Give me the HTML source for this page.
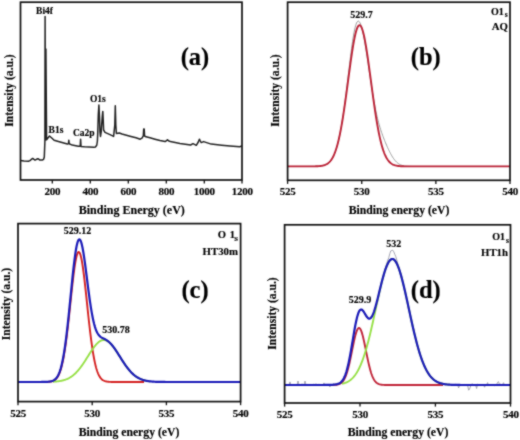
<!DOCTYPE html>
<html><head><meta charset="utf-8"><style>
html,body{margin:0;padding:0;background:#fff;}
body{width:520px;height:440px;overflow:hidden;}
svg{display:block;}
text{font-family:"Liberation Serif",serif;font-weight:bold;fill:#000;stroke:#000;stroke-width:0.15px;}
</style></head><body>
<svg width="520" height="440" viewBox="0 0 520 440">
<defs><filter id="bl" x="0" y="0" width="100%" height="100%" color-interpolation-filters="sRGB"><feConvolveMatrix order="3" kernelMatrix="1 2 1 2 12 2 1 2 1" divisor="24" edgeMode="duplicate"/></filter></defs>
<rect width="520" height="440" fill="#fff"/>
<g filter="url(#bl)">
<rect width="520" height="440" fill="#fff"/>
<polyline points="20.5,160.4 24,160.9 28.4,161.2 30,160.6 31,159.7 32.7,158.4 34,159.4 35,160.1 36.5,159.3 37.9,158.7 39,159.4 39.9,160.1 42.2,160.1 43.6,159.3 44.3,157 44.9,141 45.1,16.5 45.5,140 45.9,49 46.6,139.8 47.5,138.5 49.5,136 51.5,137.8 54.1,140.3 59.3,141.7 67.4,144 68.5,143.6 68.8,140.2 69.2,143.8 72.2,145.1 78.3,146.3 80.2,146.3 80.6,139.2 81,146.4 84.5,146.7 93.7,147.2 95.6,146.9 96.8,145 97.4,141 97.7,134 98.3,115 98.9,105 99.5,118 100,132 100.5,136.4 101.2,132 102.3,116 102.8,111.4 103.3,122 103.6,130 105,132.4 110,134.6 113.6,136.4 114.8,125 115.3,105.7 115.8,125 116.4,133.5 119.3,133 122,134 130,136.2 136,137.8 140.2,139.2 142,138.2 143.3,135.8 143.7,129 144.2,129 144.6,136 146,136.8 150,137.8 155,139.2 160,140.5 165.1,141.6 166.5,140.6 167.5,139.7 168.5,140.8 170.4,141.6 180,143.4 190.6,145 193,143.7 196.3,145.3 198.3,142 199.4,139.2 200.3,141 201.2,142.6 203.6,141.6 211.2,144.1 221.7,145.2 230,146 239.7,146.8 241.9,145.9" fill="none" stroke="#222" stroke-width="1.5" stroke-linejoin="round"/>
<rect x="20.5" y="2.2" width="221.5" height="177.8" fill="none" stroke="#111" stroke-width="1.7"/>
<line x1="52.3" y1="180" x2="52.3" y2="183.6" stroke="#111" stroke-width="1.3"/>
<line x1="90.3" y1="180" x2="90.3" y2="183.6" stroke="#111" stroke-width="1.3"/>
<line x1="128.3" y1="180" x2="128.3" y2="183.6" stroke="#111" stroke-width="1.3"/>
<line x1="166.3" y1="180" x2="166.3" y2="183.6" stroke="#111" stroke-width="1.3"/>
<line x1="204.3" y1="180" x2="204.3" y2="183.6" stroke="#111" stroke-width="1.3"/>
<line x1="242" y1="180" x2="242" y2="183.6" stroke="#111" stroke-width="1.3"/>
<text x="52.3" y="194.5" font-size="11" text-anchor="middle" letter-spacing="-0.25">200</text>
<text x="90.3" y="194.5" font-size="11" text-anchor="middle" letter-spacing="-0.25">400</text>
<text x="128.3" y="194.5" font-size="11" text-anchor="middle" letter-spacing="-0.25">600</text>
<text x="166.3" y="194.5" font-size="11" text-anchor="middle" letter-spacing="-0.25">800</text>
<text x="204.3" y="194.5" font-size="11" text-anchor="middle" letter-spacing="-0.25">1000</text>
<text x="242.3" y="194.5" font-size="11" text-anchor="middle" letter-spacing="-0.25">1200</text>
<text x="131.8" y="213.5" font-size="12" text-anchor="middle" >Binding Energy (eV)</text>
<text x="12.5" y="90.5" font-size="11.6" text-anchor="middle" transform="rotate(-90 12.5 90.5)">Intensity (a.u.)</text>
<text x="44.5" y="13.5" font-size="9.5" text-anchor="middle" >Bi4f</text>
<text x="56" y="133.3" font-size="9.5" text-anchor="middle" >B1s</text>
<text x="83.8" y="135.6" font-size="9.5" text-anchor="middle" >Ca2p</text>
<text x="97.8" y="101.9" font-size="9.5" text-anchor="middle" >O1s</text>
<text x="195" y="65" font-size="24.5" text-anchor="middle" >(a)</text>
<polyline points="287.60,166.40 288.10,166.40 288.60,166.40 289.10,166.40 289.60,166.40 290.10,166.40 290.60,166.40 291.10,166.40 291.60,166.40 292.10,166.40 292.60,166.40 293.10,166.40 293.60,166.40 294.10,166.40 294.60,166.40 295.10,166.40 295.60,166.40 296.10,166.40 296.60,166.40 297.10,166.40 297.60,166.40 298.10,166.40 298.60,166.40 299.09,166.40 299.59,166.40 300.09,166.40 300.59,166.40 301.09,166.40 301.59,166.40 302.09,166.40 302.59,166.40 303.09,166.40 303.59,166.40 304.09,166.40 304.59,166.40 305.09,166.40 305.59,166.40 306.09,166.40 306.59,166.40 307.09,166.40 307.59,166.40 308.09,166.40 308.59,166.39 309.09,166.39 309.59,166.39 310.09,166.39 310.59,166.39 311.09,166.39 311.59,166.38 312.09,166.38 312.59,166.37 313.09,166.37 313.59,166.36 314.09,166.36 314.59,166.35 315.09,166.34 315.59,166.32 316.09,166.31 316.59,166.29 317.09,166.27 317.59,166.25 318.09,166.22 318.59,166.19 319.09,166.16 319.59,166.12 320.09,166.07 320.59,166.01 321.08,165.95 321.58,165.88 322.08,165.79 322.58,165.70 323.08,165.59 323.58,165.46 324.08,165.32 324.58,165.16 325.08,164.98 325.58,164.78 326.08,164.55 326.58,164.29 327.08,164.00 327.58,163.68 328.08,163.32 328.58,162.92 329.08,162.48 329.58,161.99 330.08,161.44 330.58,160.84 331.08,160.18 331.58,159.46 332.08,158.66 332.58,157.80 333.08,156.85 333.58,155.82 334.08,154.71 334.58,153.50 335.08,152.19 335.58,150.79 336.08,149.27 336.58,147.65 337.08,145.92 337.58,144.07 338.08,142.10 338.58,140.00 339.08,137.78 339.58,135.43 340.08,132.96 340.58,130.35 341.08,127.61 341.58,124.74 342.08,121.74 342.58,118.61 343.08,115.35 343.57,111.97 344.07,108.47 344.57,104.85 345.07,101.12 345.57,97.29 346.07,93.36 346.57,89.36 347.07,85.28 347.57,81.15 348.07,76.97 348.57,72.78 349.07,68.59 349.57,64.43 350.07,60.31 350.57,56.27 351.07,52.33 351.57,48.52 352.07,44.86 352.57,41.39 353.07,38.14 353.57,35.11 354.07,32.35 354.57,29.86 355.07,27.67 355.57,25.78 356.07,24.20 356.57,22.95 357.07,22.02 357.57,21.42 358.07,21.13 358.57,21.15 359.07,21.47 359.57,22.09 360.07,22.98 360.57,24.14 361.07,25.54 361.57,27.18 362.07,29.05 362.57,31.11 363.07,33.37 363.57,35.80 364.07,38.40 364.57,41.14 365.07,44.01 365.56,46.99 366.06,50.08 366.56,53.26 367.06,56.50 367.56,59.81 368.06,63.15 368.56,66.52 369.06,69.90 369.56,73.28 370.06,76.65 370.56,79.98 371.06,83.27 371.56,86.51 372.06,89.68 372.56,92.78 373.06,95.79 373.56,98.72 374.06,101.55 374.56,104.28 375.06,106.90 375.56,109.43 376.06,111.85 376.56,114.16 377.06,116.37 377.56,118.49 378.06,120.51 378.56,122.43 379.06,124.27 379.56,126.03 380.06,127.71 380.56,129.33 381.06,130.88 381.56,132.37 382.06,133.81 382.56,135.21 383.06,136.56 383.56,137.88 384.06,139.16 384.56,140.41 385.06,141.64 385.56,142.84 386.06,144.01 386.56,145.17 387.06,146.30 387.56,147.41 388.05,148.49 388.55,149.55 389.05,150.59 389.55,151.60 390.05,152.58 390.55,153.53 391.05,154.45 391.55,155.33 392.05,156.18 392.55,156.99 393.05,157.77 393.55,158.50 394.05,159.20 394.55,159.86 395.05,160.47 395.55,161.05 396.05,161.59 396.55,162.09 397.05,162.54 397.55,162.97 398.05,163.36 398.55,163.71 399.05,164.03 399.55,164.32 400.05,164.58 400.55,164.81 401.05,165.02 401.55,165.21 402.05,165.37 402.55,165.52 403.05,165.65 403.55,165.76 404.05,165.85 404.55,165.94 405.05,166.01 405.55,166.07 406.05,166.13 406.55,166.17 407.05,166.21 407.55,166.24 408.05,166.27 408.55,166.29 409.05,166.31 409.55,166.33 410.04,166.34 410.54,166.35 411.04,166.36 411.54,166.37 412.04,166.38 412.54,166.38 413.04,166.38 413.54,166.39 414.04,166.39 414.54,166.39 415.04,166.39 415.54,166.40 416.04,166.40 416.54,166.40 417.04,166.40 417.54,166.40 418.04,166.40 418.54,166.40 419.04,166.40 419.54,166.40 420.04,166.40 420.54,166.40 421.04,166.40 421.54,166.40 422.04,166.40 422.54,166.40 423.04,166.40 423.54,166.40 424.04,166.40 424.54,166.40 425.04,166.40 425.54,166.40 426.04,166.40 426.54,166.40 427.04,166.40 427.54,166.40 428.04,166.40 428.54,166.40 429.04,166.40 429.54,166.40 430.04,166.40 430.54,166.40 431.04,166.40 431.54,166.40 432.04,166.40 432.53,166.40 433.03,166.40 433.53,166.40 434.03,166.40 434.53,166.40 435.03,166.40 435.53,166.40 436.03,166.40 436.53,166.40 437.03,166.40 437.53,166.40 438.03,166.40 438.53,166.40 439.03,166.40 439.53,166.40 440.03,166.40 440.53,166.40 441.03,166.40 441.53,166.40 442.03,166.40 442.53,166.40 443.03,166.40 443.53,166.40 444.03,166.40 444.53,166.40 445.03,166.40 445.53,166.40 446.03,166.40 446.53,166.40 447.03,166.40 447.53,166.40 448.03,166.40 448.53,166.40 449.03,166.40 449.53,166.40 450.03,166.40 450.53,166.40 451.03,166.40 451.53,166.40 452.03,166.40 452.53,166.40 453.03,166.40 453.53,166.40 454.03,166.40 454.52,166.40 455.02,166.40 455.52,166.40 456.02,166.40 456.52,166.40 457.02,166.40 457.52,166.40 458.02,166.40 458.52,166.40 459.02,166.40 459.52,166.40 460.02,166.40 460.52,166.40 461.02,166.40 461.52,166.40 462.02,166.40 462.52,166.40 463.02,166.40 463.52,166.40 464.02,166.40 464.52,166.40 465.02,166.40 465.52,166.40 466.02,166.40 466.52,166.40 467.02,166.40 467.52,166.40 468.02,166.40 468.52,166.40 469.02,166.40 469.52,166.40 470.02,166.40 470.52,166.40 471.02,166.40 471.52,166.40 472.02,166.40 472.52,166.40 473.02,166.40 473.52,166.40 474.02,166.40 474.52,166.40 475.02,166.40 475.52,166.40 476.02,166.40 476.52,166.40 477.01,166.40 477.51,166.40 478.01,166.40 478.51,166.40 479.01,166.40 479.51,166.40 480.01,166.40 480.51,166.40 481.01,166.40 481.51,166.40 482.01,166.40 482.51,166.40 483.01,166.40 483.51,166.40 484.01,166.40 484.51,166.40 485.01,166.40 485.51,166.40 486.01,166.40 486.51,166.40 487.01,166.40 487.51,166.40 488.01,166.40 488.51,166.40 489.01,166.40 489.51,166.40 490.01,166.40 490.51,166.40 491.01,166.40 491.51,166.40 492.01,166.40 492.51,166.40 493.01,166.40 493.51,166.40 494.01,166.40 494.51,166.40 495.01,166.40 495.51,166.40 496.01,166.40 496.51,166.40 497.01,166.40 497.51,166.40 498.01,166.40 498.51,166.40 499.00,166.40 499.50,166.40 500.00,166.40 500.50,166.40 501.00,166.40 501.50,166.40 502.00,166.40 502.50,166.40 503.00,166.40 503.50,166.40 504.00,166.40 504.50,166.40 505.00,166.40 505.50,166.40 506.00,166.40 506.50,166.40 507.00,166.40 507.50,166.40 508.00,166.40 508.50,166.40 509.00,166.40 509.50,166.40 510.00,166.40" fill="none" stroke="#9a9a9a" stroke-width="1"/>
<polyline points="287.60,166.40 288.10,166.40 288.60,166.40 289.10,166.40 289.60,166.40 290.10,166.40 290.60,166.40 291.10,166.40 291.60,166.40 292.10,166.40 292.60,166.40 293.10,166.40 293.60,166.40 294.10,166.40 294.60,166.40 295.10,166.40 295.60,166.40 296.10,166.40 296.60,166.40 297.10,166.40 297.60,166.40 298.10,166.40 298.60,166.40 299.09,166.40 299.59,166.40 300.09,166.40 300.59,166.40 301.09,166.40 301.59,166.40 302.09,166.40 302.59,166.40 303.09,166.40 303.59,166.40 304.09,166.40 304.59,166.40 305.09,166.40 305.59,166.40 306.09,166.40 306.59,166.40 307.09,166.40 307.59,166.40 308.09,166.39 308.59,166.39 309.09,166.39 309.59,166.39 310.09,166.39 310.59,166.39 311.09,166.38 311.59,166.38 312.09,166.38 312.59,166.37 313.09,166.36 313.59,166.36 314.09,166.35 314.59,166.34 315.09,166.33 315.59,166.32 316.09,166.30 316.59,166.28 317.09,166.26 317.59,166.24 318.09,166.21 318.59,166.17 319.09,166.14 319.59,166.09 320.09,166.04 320.59,165.98 321.08,165.92 321.58,165.84 322.08,165.75 322.58,165.65 323.08,165.54 323.58,165.41 324.08,165.27 324.58,165.10 325.08,164.92 325.58,164.71 326.08,164.48 326.58,164.22 327.08,163.92 327.58,163.60 328.08,163.23 328.58,162.83 329.08,162.38 329.58,161.89 330.08,161.35 330.58,160.74 331.08,160.09 331.58,159.36 332.08,158.57 332.58,157.71 333.08,156.77 333.58,155.75 334.08,154.65 334.58,153.45 335.08,152.17 335.58,150.78 336.08,149.29 336.58,147.70 337.08,145.99 337.58,144.18 338.08,142.24 338.58,140.20 339.08,138.03 339.58,135.74 340.08,133.33 340.58,130.80 341.08,128.15 341.58,125.38 342.08,122.49 342.58,119.50 343.08,116.39 343.57,113.18 344.07,109.87 344.57,106.48 345.07,103.00 345.57,99.44 346.07,95.83 346.57,92.16 347.07,88.45 347.57,84.71 348.07,80.96 348.57,77.21 349.07,73.47 349.57,69.76 350.07,66.10 350.57,62.49 351.07,58.97 351.57,55.53 352.07,52.21 352.57,49.02 353.07,45.96 353.57,43.07 354.07,40.34 354.57,37.81 355.07,35.47 355.57,33.35 356.07,31.45 356.57,29.79 357.07,28.37 357.57,27.21 358.07,26.31 358.57,25.67 359.07,25.30 359.57,25.20 360.07,25.37 360.57,25.82 361.07,26.53 361.57,27.50 362.07,28.73 362.57,30.22 363.07,31.94 363.57,33.90 364.07,36.08 364.57,38.47 365.07,41.06 365.56,43.83 366.06,46.77 366.56,49.87 367.06,53.10 367.56,56.45 368.06,59.91 368.56,63.46 369.06,67.08 369.56,70.76 370.06,74.48 370.56,78.22 371.06,81.98 371.56,85.73 372.06,89.46 372.56,93.16 373.06,96.81 373.56,100.41 374.06,103.95 374.56,107.40 375.06,110.78 375.56,114.06 376.06,117.24 376.56,120.32 377.06,123.29 377.56,126.14 378.06,128.88 378.56,131.49 379.06,133.99 379.56,136.37 380.06,138.63 380.56,140.76 381.06,142.78 381.56,144.68 382.06,146.46 382.56,148.14 383.06,149.70 383.56,151.16 384.06,152.52 384.56,153.79 385.06,154.96 385.56,156.04 386.06,157.03 386.56,157.95 387.06,158.79 387.56,159.57 388.05,160.27 388.55,160.91 389.05,161.50 389.55,162.03 390.05,162.51 390.55,162.94 391.05,163.34 391.55,163.69 392.05,164.01 392.55,164.29 393.05,164.54 393.55,164.77 394.05,164.97 394.55,165.15 395.05,165.31 395.55,165.45 396.05,165.57 396.55,165.68 397.05,165.78 397.55,165.86 398.05,165.94 398.55,166.00 399.05,166.06 399.55,166.11 400.05,166.15 400.55,166.18 401.05,166.22 401.55,166.24 402.05,166.27 402.55,166.29 403.05,166.30 403.55,166.32 404.05,166.33 404.55,166.34 405.05,166.35 405.55,166.36 406.05,166.37 406.55,166.37 407.05,166.38 407.55,166.38 408.05,166.38 408.55,166.39 409.05,166.39 409.55,166.39 410.04,166.39 410.54,166.39 411.04,166.39 411.54,166.40 412.04,166.40 412.54,166.40 413.04,166.40 413.54,166.40 414.04,166.40 414.54,166.40 415.04,166.40 415.54,166.40 416.04,166.40 416.54,166.40 417.04,166.40 417.54,166.40 418.04,166.40 418.54,166.40 419.04,166.40 419.54,166.40 420.04,166.40 420.54,166.40 421.04,166.40 421.54,166.40 422.04,166.40 422.54,166.40 423.04,166.40 423.54,166.40 424.04,166.40 424.54,166.40 425.04,166.40 425.54,166.40 426.04,166.40 426.54,166.40 427.04,166.40 427.54,166.40 428.04,166.40 428.54,166.40 429.04,166.40 429.54,166.40 430.04,166.40 430.54,166.40 431.04,166.40 431.54,166.40 432.04,166.40 432.53,166.40 433.03,166.40 433.53,166.40 434.03,166.40 434.53,166.40 435.03,166.40 435.53,166.40 436.03,166.40 436.53,166.40 437.03,166.40 437.53,166.40 438.03,166.40 438.53,166.40 439.03,166.40 439.53,166.40 440.03,166.40 440.53,166.40 441.03,166.40 441.53,166.40 442.03,166.40 442.53,166.40 443.03,166.40 443.53,166.40 444.03,166.40 444.53,166.40 445.03,166.40 445.53,166.40 446.03,166.40 446.53,166.40 447.03,166.40 447.53,166.40 448.03,166.40 448.53,166.40 449.03,166.40 449.53,166.40 450.03,166.40 450.53,166.40 451.03,166.40 451.53,166.40 452.03,166.40 452.53,166.40 453.03,166.40 453.53,166.40 454.03,166.40 454.52,166.40 455.02,166.40 455.52,166.40 456.02,166.40 456.52,166.40 457.02,166.40 457.52,166.40 458.02,166.40 458.52,166.40 459.02,166.40 459.52,166.40 460.02,166.40 460.52,166.40 461.02,166.40 461.52,166.40 462.02,166.40 462.52,166.40 463.02,166.40 463.52,166.40 464.02,166.40 464.52,166.40 465.02,166.40 465.52,166.40 466.02,166.40 466.52,166.40 467.02,166.40 467.52,166.40 468.02,166.40 468.52,166.40 469.02,166.40 469.52,166.40 470.02,166.40 470.52,166.40 471.02,166.40 471.52,166.40 472.02,166.40 472.52,166.40 473.02,166.40 473.52,166.40 474.02,166.40 474.52,166.40 475.02,166.40 475.52,166.40 476.02,166.40 476.52,166.40 477.01,166.40 477.51,166.40 478.01,166.40 478.51,166.40 479.01,166.40 479.51,166.40 480.01,166.40 480.51,166.40 481.01,166.40 481.51,166.40 482.01,166.40 482.51,166.40 483.01,166.40 483.51,166.40 484.01,166.40 484.51,166.40 485.01,166.40 485.51,166.40 486.01,166.40 486.51,166.40 487.01,166.40 487.51,166.40 488.01,166.40 488.51,166.40 489.01,166.40 489.51,166.40 490.01,166.40 490.51,166.40 491.01,166.40 491.51,166.40 492.01,166.40 492.51,166.40 493.01,166.40 493.51,166.40 494.01,166.40 494.51,166.40 495.01,166.40 495.51,166.40 496.01,166.40 496.51,166.40 497.01,166.40 497.51,166.40 498.01,166.40 498.51,166.40 499.00,166.40 499.50,166.40 500.00,166.40 500.50,166.40 501.00,166.40 501.50,166.40 502.00,166.40 502.50,166.40 503.00,166.40 503.50,166.40 504.00,166.40 504.50,166.40 505.00,166.40 505.50,166.40 506.00,166.40 506.50,166.40 507.00,166.40 507.50,166.40 508.00,166.40 508.50,166.40 509.00,166.40 509.50,166.40 510.00,166.40" fill="none" stroke="#bb2236" stroke-width="1.9"/>
<rect x="287.6" y="2.2" width="222.39999999999998" height="178.10000000000002" fill="none" stroke="#111" stroke-width="1.7"/>
<line x1="287.6" y1="180.3" x2="287.6" y2="183.9" stroke="#111" stroke-width="1.3"/>
<line x1="361.735" y1="180.3" x2="361.735" y2="183.9" stroke="#111" stroke-width="1.3"/>
<line x1="435.87" y1="180.3" x2="435.87" y2="183.9" stroke="#111" stroke-width="1.3"/>
<line x1="510" y1="180.3" x2="510" y2="183.9" stroke="#111" stroke-width="1.3"/>
<text x="287.6" y="194.5" font-size="11" text-anchor="middle" letter-spacing="-0.25">525</text>
<text x="361.735" y="194.5" font-size="11" text-anchor="middle" letter-spacing="-0.25">530</text>
<text x="435.87" y="194.5" font-size="11" text-anchor="middle" letter-spacing="-0.25">535</text>
<text x="510.005" y="194.5" font-size="11" text-anchor="middle" letter-spacing="-0.25">540</text>
<text x="399" y="213.5" font-size="11.7" text-anchor="middle" >Binding energy (eV)</text>
<text x="279" y="90.5" font-size="11.6" text-anchor="middle" transform="rotate(-90 279 90.5)">Intensity (a.u.)</text>
<text x="361.5" y="17.5" font-size="10" text-anchor="middle" >529.7</text>
<text x="507.8" y="15" font-size="10" text-anchor="end" font-family="Liberation Serif" font-weight="bold">O1<tspan font-size="7.6" dx="1.0" dy="2.3">s</tspan></text>
<text x="508" y="30.2" font-size="10.8" text-anchor="end" >AQ</text>
<text x="425.7" y="65" font-size="24.5" text-anchor="middle" >(b)</text>
<polyline points="42.00,381.99 42.50,381.99 43.00,381.99 43.50,381.98 44.00,381.98 44.50,381.97 45.00,381.97 45.50,381.96 46.00,381.94 46.50,381.93 47.00,381.91 47.50,381.89 48.00,381.86 48.50,381.83 49.00,381.78 49.50,381.73 50.00,381.67 50.50,381.60 51.00,381.50 51.50,381.39 52.00,381.26 52.50,381.11 53.00,380.92 53.50,380.71 54.00,380.45 54.50,380.15 55.00,379.79 55.50,379.39 56.00,378.91 56.50,378.37 57.00,377.74 57.50,377.02 58.00,376.20 58.50,375.27 59.00,374.23 59.50,373.05 60.00,371.73 60.50,370.26 61.00,368.62 61.50,366.81 62.00,364.83 62.50,362.65 63.00,360.27 63.50,357.70 64.00,354.91 64.50,351.91 65.00,348.71 65.50,345.30 66.00,341.68 66.50,337.86 67.00,333.87 67.50,329.69 68.00,325.37 68.50,320.91 69.00,316.33 69.50,311.67 70.00,306.95 70.50,302.20 71.00,297.46 71.50,292.76 72.00,288.15 72.50,283.65 73.00,279.31 73.50,275.17 74.00,271.26 74.50,267.62 75.00,264.30 75.50,261.31 76.00,258.70 76.50,256.49 77.00,254.70 77.50,253.35 78.00,252.46 78.50,252.04 79.00,252.08 79.50,252.60 80.00,253.58 80.50,255.02 81.00,256.90 81.50,259.19 82.00,261.88 82.50,264.93 83.00,268.33 83.50,272.02 84.00,275.98 84.50,280.16 85.00,284.54 85.50,289.06 86.00,293.70 86.50,298.41 87.00,303.15 87.50,307.90 88.00,312.61 88.50,317.25 89.00,321.81 89.50,326.24 90.00,330.54 90.50,334.68 91.00,338.64 91.50,342.42 92.00,345.99 92.50,349.37 93.00,352.53 93.50,355.48 94.00,358.23 94.50,360.76 95.00,363.10 95.50,365.24 96.00,367.19 96.50,368.96 97.00,370.56 97.50,372.00 98.00,373.29 98.50,374.45 99.00,375.47 99.50,376.37 100.00,377.17 100.50,377.87 101.00,378.48 101.50,379.01 102.00,379.47 102.50,379.87 103.00,380.21 103.50,380.50 104.00,380.75 104.50,380.96 105.00,381.14 105.50,381.29 106.00,381.42 106.50,381.52 107.00,381.61 107.50,381.68 108.00,381.74 108.50,381.79 109.00,381.83 109.50,381.87 110.00,381.89 110.50,381.92 111.00,381.93 111.50,381.95 112.00,381.96 112.50,381.97 113.00,381.97 113.50,381.98 114.00,381.98 114.50,381.99 115.00,381.99 115.50,381.99 116.00,381.99 116.50,382.00 117.00,382.00 117.50,382.00 118.00,382.00 118.50,382.00 119.00,382.00 119.50,382.00 120.00,382.00 120.50,382.00 121.00,382.00 121.50,382.00 122.00,382.00 122.50,382.00 123.00,382.00 123.50,382.00 124.00,382.00 124.50,382.00 125.00,382.00 125.50,382.00 126.00,382.00 126.50,382.00 127.00,382.00 127.50,382.00 128.00,382.00 128.50,382.00 129.00,382.00 129.50,382.00 130.00,382.00 130.50,382.00 131.00,382.00 131.50,382.00 132.00,382.00 132.50,382.00 133.00,382.00 133.50,382.00 134.00,382.00 134.50,382.00 135.00,382.00 135.50,382.00 136.00,382.00 136.50,382.00 137.00,382.00 137.50,382.00 138.00,382.00 138.50,382.00 139.00,382.00 139.50,382.00 140.00,382.00 140.50,382.00 141.00,382.00 141.50,382.00 142.00,382.00 142.50,382.00 143.00,382.00 143.50,382.00 144.00,382.00" fill="none" stroke="#d42020" stroke-width="1.9"/>
<polyline points="53.00,381.73 53.50,381.70 54.00,381.67 54.50,381.64 55.00,381.60 55.50,381.56 56.00,381.52 56.50,381.47 57.00,381.42 57.50,381.36 58.00,381.30 58.50,381.24 59.00,381.17 59.50,381.09 60.00,381.01 60.50,380.92 61.00,380.83 61.50,380.72 62.00,380.62 62.50,380.50 63.00,380.37 63.50,380.24 64.00,380.10 64.50,379.94 65.00,379.78 65.50,379.61 66.00,379.42 66.50,379.23 67.00,379.02 67.50,378.80 68.00,378.56 68.50,378.32 69.00,378.06 69.50,377.78 70.00,377.49 70.50,377.18 71.00,376.86 71.50,376.53 72.00,376.17 72.50,375.80 73.00,375.41 73.50,375.01 74.00,374.59 74.50,374.15 75.00,373.69 75.50,373.21 76.00,372.72 76.50,372.20 77.00,371.67 77.50,371.12 78.00,370.55 78.50,369.97 79.00,369.37 79.50,368.75 80.00,368.11 80.50,367.45 81.00,366.78 81.50,366.10 82.00,365.40 82.50,364.69 83.00,363.96 83.50,363.22 84.00,362.47 84.50,361.71 85.00,360.94 85.50,360.16 86.00,359.38 86.50,358.59 87.00,357.80 87.50,357.00 88.00,356.21 88.50,355.41 89.00,354.62 89.50,353.83 90.00,353.05 90.50,352.27 91.00,351.50 91.50,350.74 92.00,350.00 92.50,349.27 93.00,348.56 93.50,347.86 94.00,347.18 94.50,346.53 95.00,345.90 95.50,345.29 96.00,344.71 96.50,344.15 97.00,343.63 97.50,343.13 98.00,342.67 98.50,342.24 99.00,341.85 99.50,341.49 100.00,341.17 100.50,340.88 101.00,340.64 101.50,340.43 102.00,340.26 102.50,340.14 103.00,340.05 103.50,340.01 104.00,340.00 104.50,340.04 105.00,340.12 105.50,340.24 106.00,340.40 106.50,340.59 107.00,340.83 107.50,341.11 108.00,341.42 108.50,341.77 109.00,342.16 109.50,342.58 110.00,343.04 110.50,343.53 111.00,344.04 111.50,344.59 112.00,345.17 112.50,345.77 113.00,346.40 113.50,347.05 114.00,347.72 114.50,348.42 115.00,349.13 115.50,349.85 116.00,350.60 116.50,351.35 117.00,352.11 117.50,352.89 118.00,353.67 118.50,354.46 119.00,355.25 119.50,356.05 120.00,356.84 120.50,357.64 121.00,358.43 121.50,359.22 122.00,360.01 122.50,360.79 123.00,361.56 123.50,362.32 124.00,363.07 124.50,363.81 125.00,364.54 125.50,365.26 126.00,365.96 126.50,366.65 127.00,367.32 127.50,367.98 128.00,368.62 128.50,369.24 129.00,369.85 129.50,370.44 130.00,371.01 130.50,371.56 131.00,372.10 131.50,372.62 132.00,373.11 132.50,373.59 133.00,374.06 133.50,374.50 134.00,374.93 134.50,375.34 135.00,375.73 135.50,376.10 136.00,376.46 136.50,376.80 137.00,377.12 137.50,377.43 138.00,377.72 138.50,378.00 139.00,378.27 139.50,378.52 140.00,378.75 140.50,378.97 141.00,379.19 141.50,379.38 142.00,379.57 142.50,379.75 143.00,379.91 143.50,380.07 144.00,380.21 144.50,380.35 145.00,380.47 145.50,380.59 146.00,380.70 146.50,380.81 147.00,380.90 147.50,380.99 148.00,381.08 148.50,381.15 149.00,381.22 149.50,381.29 150.00,381.35" fill="none" stroke="#96e046" stroke-width="1.9"/>
<polyline points="18.00,382.00 18.50,382.00 19.00,382.00 19.50,382.00 20.00,382.00 20.50,382.00 21.00,382.00 21.50,382.00 22.00,382.00 22.50,382.00 23.00,382.00 23.50,382.00 24.00,382.00 24.50,382.00 25.00,382.00 25.50,382.00 26.00,382.00 26.50,382.00 27.00,382.00 27.50,382.00 28.00,382.00 28.50,382.00 29.00,382.00 29.51,382.00 30.01,382.00 30.51,382.00 31.01,382.00 31.51,382.00 32.01,382.00 32.51,382.00 33.01,382.00 33.51,382.00 34.01,382.00 34.51,382.00 35.01,382.00 35.51,382.00 36.01,381.99 36.51,381.99 37.01,381.99 37.51,381.99 38.01,381.99 38.51,381.99 39.01,381.99 39.51,381.99 40.01,381.98 40.51,381.98 41.01,381.98 41.51,381.97 42.01,381.97 42.51,381.96 43.01,381.96 43.51,381.95 44.01,381.94 44.51,381.93 45.01,381.92 45.51,381.90 46.01,381.88 46.51,381.86 47.01,381.83 47.51,381.80 48.01,381.76 48.51,381.72 49.01,381.66 49.51,381.60 50.01,381.52 50.51,381.43 51.01,381.32 51.52,381.19 52.02,381.04 52.52,380.86 53.02,380.64 53.52,380.40 54.02,380.11 54.52,379.77 55.02,379.38 55.52,378.93 56.02,378.41 56.52,377.81 57.02,377.13 57.52,376.35 58.02,375.47 58.52,374.47 59.02,373.35 59.52,372.09 60.02,370.68 60.52,369.11 61.02,367.38 61.52,365.46 62.02,363.36 62.52,361.05 63.02,358.54 63.52,355.82 64.02,352.88 64.52,349.72 65.02,346.34 65.52,342.74 66.02,338.93 66.52,334.91 67.02,330.69 67.52,326.29 68.02,321.72 68.52,317.01 69.02,312.16 69.52,307.22 70.02,302.20 70.52,297.15 71.02,292.08 71.52,287.05 72.02,282.08 72.52,277.22 73.02,272.49 73.52,267.95 74.03,263.63 74.53,259.57 75.03,255.80 75.53,252.35 76.03,249.26 76.53,246.56 77.03,244.26 77.53,242.38 78.03,240.95 78.53,239.96 79.03,239.43 79.53,239.35 80.03,239.72 80.53,240.53 81.03,241.76 81.53,243.39 82.03,245.40 82.53,247.77 83.03,250.45 83.53,253.42 84.03,256.64 84.53,260.08 85.03,263.70 85.53,267.46 86.03,271.32 86.53,275.24 87.03,279.19 87.53,283.14 88.03,287.06 88.53,290.91 89.03,294.66 89.53,298.30 90.03,301.81 90.53,305.16 91.03,308.35 91.53,311.36 92.03,314.18 92.53,316.81 93.03,319.25 93.53,321.49 94.03,323.55 94.53,325.42 95.03,327.11 95.53,328.63 96.04,329.99 96.54,331.19 97.04,332.26 97.54,333.20 98.04,334.02 98.54,334.74 99.04,335.36 99.54,335.90 100.04,336.37 100.54,336.78 101.04,337.14 101.54,337.47 102.04,337.76 102.54,338.03 103.04,338.28 103.54,338.53 104.04,338.77 104.54,339.02 105.04,339.28 105.54,339.55 106.04,339.84 106.54,340.14 107.04,340.47 107.54,340.82 108.04,341.20 108.54,341.60 109.04,342.03 109.54,342.49 110.04,342.97 110.54,343.48 111.04,344.02 111.54,344.59 112.04,345.18 112.54,345.79 113.04,346.43 113.54,347.09 114.04,347.77 114.54,348.47 115.04,349.18 115.54,349.91 116.04,350.66 116.54,351.41 117.04,352.18 117.54,352.96 118.04,353.74 118.55,354.53 119.05,355.32 119.55,356.12 120.05,356.92 120.55,357.71 121.05,358.51 121.55,359.30 122.05,360.08 122.55,360.86 123.05,361.63 123.55,362.39 124.05,363.14 124.55,363.88 125.05,364.61 125.55,365.33 126.05,366.03 126.55,366.71 127.05,367.39 127.55,368.04 128.05,368.68 128.55,369.30 129.05,369.91 129.55,370.50 130.05,371.07 130.55,371.62 131.05,372.15 131.55,372.67 132.05,373.16 132.55,373.64 133.05,374.10 133.55,374.55 134.05,374.97 134.55,375.38 135.05,375.77 135.55,376.14 136.05,376.49 136.55,376.83 137.05,377.16 137.55,377.46 138.05,377.75 138.55,378.03 139.05,378.29 139.55,378.54 140.05,378.78 140.56,379.00 141.06,379.21 141.56,379.41 142.06,379.59 142.56,379.77 143.06,379.93 143.56,380.08 144.06,380.23 144.56,380.36 145.06,380.49 145.56,380.61 146.06,380.72 146.56,380.82 147.06,380.91 147.56,381.00 148.06,381.08 148.56,381.16 149.06,381.23 149.56,381.30 150.06,381.36 150.56,381.41 151.06,381.46 151.56,381.51 152.06,381.56 152.56,381.60 153.06,381.63 153.56,381.67 154.06,381.70 154.56,381.73 155.06,381.75 155.56,381.78 156.06,381.80 156.56,381.82 157.06,381.84 157.56,381.85 158.06,381.87 158.56,381.88 159.06,381.89 159.56,381.90 160.06,381.91 160.56,381.92 161.06,381.93 161.56,381.94 162.06,381.94 162.56,381.95 163.07,381.96 163.57,381.96 164.07,381.97 164.57,381.97 165.07,381.97 165.57,381.98 166.07,381.98 166.57,381.98 167.07,381.98 167.57,381.99 168.07,381.99 168.57,381.99 169.07,381.99 169.57,381.99 170.07,381.99 170.57,381.99 171.07,381.99 171.57,381.99 172.07,382.00 172.57,382.00 173.07,382.00 173.57,382.00 174.07,382.00 174.57,382.00 175.07,382.00 175.57,382.00 176.07,382.00 176.57,382.00 177.07,382.00 177.57,382.00 178.07,382.00 178.57,382.00 179.07,382.00 179.57,382.00 180.07,382.00 180.57,382.00 181.07,382.00 181.57,382.00 182.07,382.00 182.57,382.00 183.07,382.00 183.57,382.00 184.07,382.00 184.57,382.00 185.08,382.00 185.58,382.00 186.08,382.00 186.58,382.00 187.08,382.00 187.58,382.00 188.08,382.00 188.58,382.00 189.08,382.00 189.58,382.00 190.08,382.00 190.58,382.00 191.08,382.00 191.58,382.00 192.08,382.00 192.58,382.00 193.08,382.00 193.58,382.00 194.08,382.00 194.58,382.00 195.08,382.00 195.58,382.00 196.08,382.00 196.58,382.00 197.08,382.00 197.58,382.00 198.08,382.00 198.58,382.00 199.08,382.00 199.58,382.00 200.08,382.00 200.58,382.00 201.08,382.00 201.58,382.00 202.08,382.00 202.58,382.00 203.08,382.00 203.58,382.00 204.08,382.00 204.58,382.00 205.08,382.00 205.58,382.00 206.08,382.00 206.58,382.00 207.08,382.00 207.59,382.00 208.09,382.00 208.59,382.00 209.09,382.00 209.59,382.00 210.09,382.00 210.59,382.00 211.09,382.00 211.59,382.00 212.09,382.00 212.59,382.00 213.09,382.00 213.59,382.00 214.09,382.00 214.59,382.00 215.09,382.00 215.59,382.00 216.09,382.00 216.59,382.00 217.09,382.00 217.59,382.00 218.09,382.00 218.59,382.00 219.09,382.00 219.59,382.00 220.09,382.00 220.59,382.00 221.09,382.00 221.59,382.00 222.09,382.00 222.59,382.00 223.09,382.00 223.59,382.00 224.09,382.00 224.59,382.00 225.09,382.00 225.59,382.00 226.09,382.00 226.59,382.00 227.09,382.00 227.59,382.00 228.09,382.00 228.59,382.00 229.09,382.00 229.60,382.00 230.10,382.00 230.60,382.00 231.10,382.00 231.60,382.00 232.10,382.00 232.60,382.00 233.10,382.00 233.60,382.00 234.10,382.00 234.60,382.00 235.10,382.00 235.60,382.00 236.10,382.00 236.60,382.00 237.10,382.00 237.60,382.00 238.10,382.00 238.60,382.00 239.10,382.00 239.60,382.00 240.10,382.00 240.60,382.00" fill="none" stroke="#1a1ab8" stroke-width="2.2"/>
<rect x="18" y="223.6" width="222.6" height="178.00000000000003" fill="none" stroke="#111" stroke-width="1.7"/>
<line x1="18" y1="401.6" x2="18" y2="405.20000000000005" stroke="#111" stroke-width="1.3"/>
<line x1="92.2" y1="401.6" x2="92.2" y2="405.20000000000005" stroke="#111" stroke-width="1.3"/>
<line x1="166.4" y1="401.6" x2="166.4" y2="405.20000000000005" stroke="#111" stroke-width="1.3"/>
<line x1="240.6" y1="401.6" x2="240.6" y2="405.20000000000005" stroke="#111" stroke-width="1.3"/>
<text x="18.0" y="416.6" font-size="11" text-anchor="middle" letter-spacing="-0.25">525</text>
<text x="92.2" y="416.6" font-size="11" text-anchor="middle" letter-spacing="-0.25">530</text>
<text x="166.4" y="416.6" font-size="11" text-anchor="middle" letter-spacing="-0.25">535</text>
<text x="240.6" y="416.6" font-size="11" text-anchor="middle" letter-spacing="-0.25">540</text>
<text x="129" y="435.8" font-size="11.7" text-anchor="middle" >Binding energy (eV)</text>
<text x="10" y="304" font-size="11.6" text-anchor="middle" transform="rotate(-90 10 304)">Intensity (a.u.)</text>
<text x="77.5" y="233.6" font-size="10" text-anchor="middle" >529.12</text>
<text x="116" y="332.9" font-size="10" text-anchor="middle" >530.78</text>
<text x="217.7" y="238" font-size="10.6" text-anchor="start" >O</text>
<text x="229.7" y="238" font-size="10.6" text-anchor="start" >1</text>
<text x="234.2" y="240.6" font-size="6.8" text-anchor="start" >S</text>
<text x="238" y="255.3" font-size="10.8" text-anchor="end" >HT30m</text>
<text x="195" y="298.2" font-size="24.5" text-anchor="middle" >(c)</text>
<polyline points="285.0,385.0 286.0,385.6 287.0,384.5 288.0,385.5 289.0,384.9 290.0,381.9 291.0,385.9 292.0,385.1 293.0,385.0 294.0,385.4 295.0,385.6 296.0,385.0 297.0,385.3 298.0,381.0 299.0,384.8 300.0,384.8 301.0,384.3 302.0,384.2 303.0,384.2 304.0,384.9 305.0,381.1 306.0,384.8 307.0,385.0 307.9,384.3 308.9,385.0 309.9,385.1 310.9,385.4 311.9,384.6 312.9,384.8 313.9,384.0 314.9,384.7 315.9,383.9 316.9,384.3 317.9,385.5 318.9,383.9 319.9,385.4 320.9,385.2 321.9,384.8 322.9,385.2 323.9,382.9 324.9,385.5 325.9,384.8 326.9,384.7 327.9,384.6 328.9,384.4 329.9,386.9 330.9,384.5 331.9,385.4 332.9,383.8 333.9,384.1 334.9,384.1 335.9,383.4 336.9,385.2 337.9,382.7 338.9,383.4 339.9,382.7 340.9,383.0 341.9,380.2 342.9,380.4 343.9,377.8 344.9,375.9 345.9,373.0 346.9,370.3 347.9,365.6 348.9,361.7 349.9,356.9 350.9,352.2 351.9,344.2 352.8,340.2 353.8,334.0 354.8,327.6 355.8,322.8 356.8,318.0 357.8,315.4 358.8,312.0 359.8,310.1 360.8,309.4 361.8,309.6 362.8,310.5 363.8,311.5 364.8,314.6 365.8,314.3 366.8,315.0 367.8,317.8 368.8,318.4 369.8,318.7 370.8,317.8 371.8,316.5 372.8,314.8 373.8,312.6 374.8,308.8 375.8,305.5 376.8,302.9 377.8,298.3 378.8,293.5 379.8,291.0 380.8,286.2 381.8,281.6 382.8,277.5 383.8,274.5 384.8,270.4 385.8,266.8 386.8,263.2 387.8,260.1 388.8,257.5 389.8,253.7 390.8,250.8 391.8,250.5 392.8,250.2 393.8,251.8 394.8,254.3 395.8,256.6 396.8,260.0 397.8,263.6 398.7,266.5 399.7,270.9 400.7,274.9 401.7,278.0 402.7,281.7 403.7,285.8 404.7,289.8 405.7,294.1 406.7,298.8 407.7,303.2 408.7,308.0 409.7,312.1 410.7,317.6 411.7,322.0 412.7,325.8 413.7,329.6 414.7,334.9 415.7,339.5 416.7,342.4 417.7,346.3 418.7,349.7 419.7,353.6 420.7,355.9 421.7,359.7 422.7,361.8 423.7,364.8 424.7,366.7 425.7,368.6 426.7,369.9 427.7,372.0 428.7,373.8 429.7,375.6 430.7,376.7 431.7,377.3 432.7,378.9 433.7,380.1 434.7,380.3 435.7,380.8 436.7,381.4 437.7,382.5 438.7,382.8 439.7,382.5 440.7,383.5 441.7,383.3 442.7,383.4 443.6,384.6 444.6,384.6 445.6,384.0 446.6,384.5 447.6,384.8 448.6,384.3 449.6,384.6 450.6,385.1 451.6,383.9 452.6,385.0 453.6,385.2 454.6,385.2 455.6,384.2 456.6,385.1 457.6,384.5 458.6,387.9 459.6,385.3 460.6,385.1 461.6,384.6 462.6,384.7 463.6,385.4 464.6,384.5 465.6,385.2 466.6,385.3 467.6,384.9 468.6,390.2 469.6,389.0 470.6,386.1 471.6,384.0 472.6,383.9 473.6,385.5 474.6,385.3 475.6,384.8 476.6,388.5 477.6,384.0 478.6,384.7 479.6,384.5 480.6,384.9 481.6,385.4 482.6,385.0 483.6,385.2 484.6,387.2 485.6,384.8 486.6,385.1 487.6,382.6 488.5,385.6 489.5,384.6 490.5,385.9 491.5,384.5 492.5,385.5 493.5,384.6 494.5,385.8 495.5,385.1 496.5,385.2 497.5,382.4 498.5,381.7 499.5,384.5 500.5,384.0 501.5,385.6 502.5,384.7 503.5,382.7 504.5,385.0 505.5,386.0 506.5,384.1 507.5,385.1 508.5,384.8 509.5,385.3 510.5,384.1" fill="none" stroke="#9a9aa8" stroke-width="0.9"/>
<polyline points="330.00,384.99 330.50,384.99 331.00,384.98 331.50,384.98 332.00,384.97 332.50,384.96 333.00,384.95 333.50,384.94 334.00,384.92 334.50,384.90 335.00,384.87 335.50,384.83 336.00,384.78 336.50,384.72 337.00,384.65 337.50,384.56 338.00,384.44 338.50,384.31 339.00,384.15 339.50,383.95 340.00,383.71 340.50,383.43 341.00,383.10 341.50,382.71 342.00,382.26 342.50,381.73 343.00,381.13 343.50,380.43 344.00,379.63 344.50,378.73 345.00,377.72 345.50,376.59 346.00,375.34 346.50,373.95 347.00,372.44 347.50,370.79 348.00,369.00 348.50,367.09 349.00,365.06 349.50,362.91 350.00,360.65 350.50,358.31 351.00,355.89 351.50,353.43 352.00,350.93 352.50,348.43 353.00,345.94 353.50,343.51 354.00,341.16 354.50,338.92 355.00,336.82 355.50,334.88 356.00,333.14 356.50,331.62 357.00,330.34 357.50,329.33 358.00,328.60 358.50,328.15 359.00,328.00 359.50,328.15 360.00,328.60 360.50,329.33 361.00,330.34 361.50,331.62 362.00,333.14 362.50,334.88 363.00,336.82 363.50,338.92 364.00,341.16 364.50,343.51 365.00,345.94 365.50,348.43 366.00,350.93 366.50,353.43 367.00,355.89 367.50,358.31 368.00,360.65 368.50,362.91 369.00,365.06 369.50,367.09 370.00,369.00 370.50,370.79 371.00,372.44 371.50,373.95 372.00,375.34 372.50,376.59 373.00,377.72 373.50,378.73 374.00,379.63 374.50,380.43 375.00,381.13 375.50,381.73 376.00,382.26 376.50,382.71 377.00,383.10 377.50,383.43 378.00,383.71 378.50,383.95 379.00,384.15 379.50,384.31 380.00,384.44 380.50,384.56 381.00,384.65 381.50,384.72 382.00,384.78 382.50,384.83 383.00,384.87 383.50,384.90 384.00,384.92 384.50,384.94 385.00,384.95 385.50,384.96 386.00,384.97 386.50,384.98 387.00,384.98 387.50,384.99 388.00,384.99 388.50,384.99 389.00,385.00 389.50,385.00 390.00,385.00 390.50,385.00 391.00,385.00 391.50,385.00 392.00,385.00 392.50,385.00 393.00,385.00 393.50,385.00 394.00,385.00 394.50,385.00 395.00,385.00 395.50,385.00 396.00,385.00 396.50,385.00 397.00,385.00 397.50,385.00 398.00,385.00 398.50,385.00 399.00,385.00 399.50,385.00 400.00,385.00 400.50,385.00 401.00,385.00 401.50,385.00 402.00,385.00 402.50,385.00 403.00,385.00 403.50,385.00 404.00,385.00 404.50,385.00 405.00,385.00 405.50,385.00 406.00,385.00 406.50,385.00 407.00,385.00 407.50,385.00 408.00,385.00 408.50,385.00 409.00,385.00 409.50,385.00 410.00,385.00 410.50,385.00 411.00,385.00 411.50,385.00 412.00,385.00 412.50,385.00 413.00,385.00 413.50,385.00 414.00,385.00 414.50,385.00 415.00,385.00 415.50,385.00 416.00,385.00 416.50,385.00 417.00,385.00 417.50,385.00 418.00,385.00 418.50,385.00 419.00,385.00 419.50,385.00 420.00,385.00 420.50,385.00 421.00,385.00 421.50,385.00 422.00,385.00 422.50,385.00 423.00,385.00 423.50,385.00 424.00,385.00 424.50,385.00 425.00,385.00 425.50,385.00 426.00,385.00 426.50,385.00 427.00,385.00 427.50,385.00 428.00,385.00 428.50,385.00 429.00,385.00 429.50,385.00 430.00,385.00 430.50,385.00 431.00,385.00 431.50,385.00 432.00,385.00 432.50,385.00 433.00,385.00 433.50,385.00 434.00,385.00 434.50,385.00 435.00,385.00 435.50,385.00 436.00,385.00 436.50,385.00 437.00,385.00 437.50,385.00 438.00,385.00 438.50,385.00 439.00,385.00 439.50,385.00 440.00,385.00 440.50,385.00 441.00,385.00 441.50,385.00 442.00,385.00 442.50,385.00 443.00,385.00" fill="none" stroke="#c02438" stroke-width="1.9"/>
<polyline points="342.00,383.79 342.50,383.67 343.00,383.55 343.50,383.41 344.00,383.26 344.50,383.10 345.00,382.93 345.50,382.74 346.00,382.54 346.50,382.33 347.00,382.09 347.50,381.84 348.00,381.57 348.50,381.28 349.00,380.97 349.50,380.64 350.00,380.29 350.50,379.91 351.00,379.51 351.50,379.08 352.00,378.62 352.50,378.13 353.00,377.61 353.50,377.06 354.00,376.48 354.50,375.86 355.00,375.21 355.50,374.52 356.00,373.80 356.50,373.03 357.00,372.22 357.50,371.37 358.00,370.48 358.50,369.54 359.00,368.56 359.50,367.53 360.00,366.45 360.50,365.33 361.00,364.16 361.50,362.93 362.00,361.66 362.50,360.34 363.00,358.96 363.50,357.53 364.00,356.05 364.50,354.52 365.00,352.94 365.50,351.31 366.00,349.63 366.50,347.89 367.00,346.11 367.50,344.28 368.00,342.40 368.50,340.48 369.00,338.51 369.50,336.50 370.00,334.45 370.50,332.36 371.00,330.23 371.50,328.08 372.00,325.89 372.50,323.67 373.00,321.43 373.50,319.16 374.00,316.88 374.50,314.59 375.00,312.28 375.50,309.97 376.00,307.65 376.50,305.34 377.00,303.03 377.50,300.73 378.00,298.45 378.50,296.19 379.00,293.95 379.50,291.74 380.00,289.57 380.50,287.43 381.00,285.34 381.50,283.30 382.00,281.31 382.50,279.37 383.00,277.51 383.50,275.70 384.00,273.97 384.50,272.32 385.00,270.75 385.50,269.26 386.00,267.86 386.50,266.55 387.00,265.34 387.50,264.22 388.00,263.21 388.50,262.30 389.00,261.49 389.50,260.80 390.00,260.22 390.50,259.75 391.00,259.39 391.50,259.15 392.00,259.02 392.50,259.01 393.00,259.11 393.50,259.33 394.00,259.67 394.50,260.12 395.00,260.68 395.50,261.35 396.00,262.13 396.50,263.02 397.00,264.01 397.50,265.10 398.00,266.30 398.50,267.59 399.00,268.97 399.50,270.44 400.00,272.00 400.50,273.64 401.00,275.35 401.50,277.14 402.00,279.00 402.50,280.92 403.00,282.89 403.50,284.93 404.00,287.01 404.50,289.14 405.00,291.30 405.50,293.51 406.00,295.74 406.50,298.00 407.00,300.27 407.50,302.57 408.00,304.87 408.50,307.19 409.00,309.50 409.50,311.82 410.00,314.13 410.50,316.42 411.00,318.71 411.50,320.98 412.00,323.22 412.50,325.45 413.00,327.64 413.50,329.81 414.00,331.94 414.50,334.03 415.00,336.09 415.50,338.11 416.00,340.09 416.50,342.02 417.00,343.91 417.50,345.75 418.00,347.54 418.50,349.28 419.00,350.98 419.50,352.62 420.00,354.21 420.50,355.75 421.00,357.24 421.50,358.68 422.00,360.06 422.50,361.40 423.00,362.68 423.50,363.92 424.00,365.10 424.50,366.23 425.00,367.32 425.50,368.36 426.00,369.35 426.50,370.30 427.00,371.20 427.50,372.05 428.00,372.87 428.50,373.65 429.00,374.38 429.50,375.08 430.00,375.74 430.50,376.36 431.00,376.95 431.50,377.51 432.00,378.03 432.50,378.52 433.00,378.99 433.50,379.42 434.00,379.83 434.50,380.21 435.00,380.57 435.50,380.91 436.00,381.22 436.50,381.52 437.00,381.79 437.50,382.04 438.00,382.28 438.50,382.50 439.00,382.70 439.50,382.89 440.00,383.07 440.50,383.23 441.00,383.38 441.50,383.52 442.00,383.65 442.50,383.77 443.00,383.88 443.50,383.98 444.00,384.07 444.50,384.15 445.00,384.23 445.50,384.30 446.00,384.37 446.50,384.43 447.00,384.48 447.50,384.53 448.00,384.58 448.50,384.62 449.00,384.66 449.50,384.69 450.00,384.72" fill="none" stroke="#96e046" stroke-width="1.9"/>
<polyline points="285.00,385.00 285.50,385.00 286.00,385.00 286.50,385.00 287.00,385.00 287.50,385.00 288.00,385.00 288.50,385.00 289.00,385.00 289.50,385.00 290.00,385.00 290.50,385.00 291.00,385.00 291.50,385.00 292.00,385.00 292.50,385.00 293.00,385.00 293.50,385.00 294.00,385.00 294.50,385.00 295.00,385.00 295.50,385.00 296.00,385.00 296.50,385.00 297.00,385.00 297.50,385.00 298.00,385.00 298.50,385.00 299.00,385.00 299.50,385.00 300.00,385.00 300.50,385.00 301.00,385.00 301.50,385.00 302.00,385.00 302.50,385.00 303.00,385.00 303.50,385.00 304.00,385.00 304.50,385.00 305.00,385.00 305.50,385.00 306.00,385.00 306.50,385.00 307.00,385.00 307.50,385.00 308.00,385.00 308.50,385.00 309.00,385.00 309.50,385.00 310.00,385.00 310.50,385.00 311.00,385.00 311.50,385.00 312.00,385.00 312.50,385.00 313.00,385.00 313.50,385.00 314.00,385.00 314.50,385.00 315.00,385.00 315.50,385.00 316.00,385.00 316.50,385.00 317.00,385.00 317.50,385.00 318.00,385.00 318.50,384.99 319.00,384.99 319.50,384.99 320.00,384.99 320.50,384.99 321.00,384.99 321.50,384.99 322.00,384.99 322.50,384.98 323.00,384.98 323.50,384.98 324.00,384.98 324.50,384.97 325.00,384.97 325.50,384.96 326.00,384.96 326.50,384.95 327.00,384.95 327.50,384.94 328.00,384.93 328.50,384.93 329.00,384.92 329.50,384.90 330.00,384.89 330.50,384.88 331.00,384.86 331.50,384.84 332.00,384.81 332.50,384.79 333.00,384.76 333.50,384.72 334.00,384.67 334.50,384.62 335.00,384.56 335.50,384.49 336.00,384.41 336.50,384.31 337.00,384.19 337.50,384.05 338.00,383.88 338.50,383.69 339.00,383.46 339.50,383.20 340.00,382.88 340.50,382.52 341.00,382.10 341.50,381.61 342.00,381.05 342.50,380.41 343.00,379.67 343.50,378.84 344.00,377.90 344.50,376.84 345.00,375.65 345.50,374.34 346.00,372.88 346.50,371.28 347.00,369.53 347.50,367.63 348.00,365.58 348.50,363.38 349.00,361.03 349.50,358.55 350.00,355.94 350.50,353.22 351.00,350.40 351.50,347.50 352.00,344.55 352.50,341.56 353.00,338.56 353.50,335.58 354.00,332.64 354.50,329.78 355.00,327.03 355.50,324.40 356.00,321.94 356.50,319.65 357.00,317.57 357.50,315.70 358.00,314.07 358.50,312.69 359.00,311.56 359.50,310.68 360.00,310.05 360.50,309.66 361.00,309.50 361.50,309.55 362.00,309.80 362.50,310.22 363.00,310.78 363.50,311.45 364.00,312.22 364.50,313.04 365.00,313.89 365.50,314.74 366.00,315.56 366.50,316.32 367.00,317.01 367.50,317.59 368.00,318.05 368.50,318.39 369.00,318.57 369.50,318.59 370.00,318.45 370.50,318.15 371.00,317.67 371.50,317.03 372.00,316.22 372.50,315.26 373.00,314.15 373.50,312.90 374.00,311.52 374.50,310.01 375.00,308.40 375.50,306.70 376.00,304.91 376.50,303.05 377.00,301.13 377.50,299.17 378.00,297.16 378.50,295.14 379.00,293.10 379.50,291.05 380.00,289.01 380.50,286.99 381.00,284.99 381.50,283.02 382.00,281.09 382.50,279.20 383.00,277.37 383.50,275.60 384.00,273.89 384.50,272.26 385.00,270.70 385.50,269.22 386.00,267.83 386.50,266.53 387.00,265.32 387.50,264.21 388.00,263.20 388.50,262.29 389.00,261.49 389.50,260.80 390.00,260.22 390.50,259.75 391.00,259.39 391.50,259.15 392.00,259.02 392.50,259.01 393.00,259.11 393.50,259.33 394.00,259.67 394.50,260.11 395.00,260.68 395.50,261.35 396.00,262.13 396.50,263.02 397.00,264.01 397.50,265.10 398.00,266.30 398.50,267.59 399.00,268.97 399.50,270.44 400.00,272.00 400.50,273.64 401.00,275.35 401.50,277.14 402.00,279.00 402.50,280.92 403.00,282.89 403.50,284.93 404.00,287.01 404.50,289.14 405.00,291.30 405.50,293.51 406.00,295.74 406.50,298.00 407.00,300.27 407.50,302.57 408.00,304.87 408.50,307.19 409.00,309.50 409.50,311.82 410.00,314.13 410.50,316.42 411.00,318.71 411.50,320.98 412.00,323.22 412.50,325.45 413.00,327.64 413.50,329.81 414.00,331.94 414.50,334.03 415.00,336.09 415.50,338.11 416.00,340.09 416.50,342.02 417.00,343.91 417.50,345.75 418.00,347.54 418.50,349.28 419.00,350.98 419.50,352.62 420.00,354.21 420.50,355.75 421.00,357.24 421.50,358.68 422.00,360.06 422.50,361.40 423.00,362.68 423.50,363.92 424.00,365.10 424.50,366.23 425.00,367.32 425.50,368.36 426.00,369.35 426.50,370.30 427.00,371.20 427.50,372.05 428.00,372.87 428.50,373.65 429.00,374.38 429.50,375.08 430.00,375.74 430.50,376.36 431.00,376.95 431.50,377.51 432.00,378.03 432.50,378.52 433.00,378.99 433.50,379.42 434.00,379.83 434.50,380.21 435.00,380.57 435.50,380.91 436.00,381.22 436.50,381.52 437.00,381.79 437.50,382.04 438.00,382.28 438.50,382.50 439.00,382.70 439.50,382.89 440.00,383.07 440.50,383.23 441.00,383.38 441.50,383.52 442.00,383.65 442.50,383.77 443.00,383.88 443.50,383.98 444.00,384.07 444.50,384.15 445.00,384.23 445.50,384.30 446.00,384.37 446.50,384.43 447.00,384.48 447.50,384.53 448.00,384.58 448.50,384.62 449.00,384.66 449.50,384.69 450.00,384.72 450.50,384.75 451.00,384.78 451.50,384.80 452.00,384.82 452.50,384.84 453.00,384.85 453.50,384.87 454.00,384.88 454.50,384.90 455.00,384.91 455.50,384.92 456.00,384.93 456.50,384.93 457.00,384.94 457.50,384.95 458.00,384.95 458.50,384.96 459.00,384.96 459.50,384.97 460.00,384.97 460.50,384.98 461.00,384.98 461.50,384.98 462.00,384.98 462.50,384.99 463.00,384.99 463.50,384.99 464.00,384.99 464.50,384.99 465.00,384.99 465.50,384.99 466.00,384.99 466.50,384.99 467.00,385.00 467.50,385.00 468.00,385.00 468.50,385.00 469.00,385.00 469.50,385.00 470.00,385.00 470.50,385.00 471.00,385.00 471.50,385.00 472.00,385.00 472.50,385.00 473.00,385.00 473.50,385.00 474.00,385.00 474.50,385.00 475.00,385.00 475.50,385.00 476.00,385.00 476.50,385.00 477.00,385.00 477.50,385.00 478.00,385.00 478.50,385.00 479.00,385.00 479.50,385.00 480.00,385.00 480.50,385.00 481.00,385.00 481.50,385.00 482.00,385.00 482.50,385.00 483.00,385.00 483.50,385.00 484.00,385.00 484.50,385.00 485.00,385.00 485.50,385.00 486.00,385.00 486.50,385.00 487.00,385.00 487.50,385.00 488.00,385.00 488.50,385.00 489.00,385.00 489.50,385.00 490.00,385.00 490.50,385.00 491.00,385.00 491.50,385.00 492.00,385.00 492.50,385.00 493.00,385.00 493.50,385.00 494.00,385.00 494.50,385.00 495.00,385.00 495.50,385.00 496.00,385.00 496.50,385.00 497.00,385.00 497.50,385.00 498.00,385.00 498.50,385.00 499.00,385.00 499.50,385.00 500.00,385.00 500.50,385.00 501.00,385.00 501.50,385.00 502.00,385.00 502.50,385.00 503.00,385.00 503.50,385.00 504.00,385.00 504.50,385.00 505.00,385.00 505.50,385.00 506.00,385.00 506.50,385.00 507.00,385.00 507.50,385.00 508.00,385.00 508.50,385.00 509.00,385.00 509.50,385.00 510.00,385.00 510.50,385.00" fill="none" stroke="#1a1ab8" stroke-width="2.2"/>
<rect x="284.6" y="224.8" width="225.89999999999998" height="178.2" fill="none" stroke="#111" stroke-width="1.7"/>
<line x1="284.6" y1="403" x2="284.6" y2="406.6" stroke="#111" stroke-width="1.3"/>
<line x1="360.0" y1="403" x2="360.0" y2="406.6" stroke="#111" stroke-width="1.3"/>
<line x1="435.40000000000003" y1="403" x2="435.40000000000003" y2="406.6" stroke="#111" stroke-width="1.3"/>
<line x1="510.5" y1="403" x2="510.5" y2="406.6" stroke="#111" stroke-width="1.3"/>
<text x="284.6" y="417.9" font-size="11" text-anchor="middle" letter-spacing="-0.25">525</text>
<text x="360.0" y="417.9" font-size="11" text-anchor="middle" letter-spacing="-0.25">530</text>
<text x="435.40000000000003" y="417.9" font-size="11" text-anchor="middle" letter-spacing="-0.25">535</text>
<text x="510.8" y="417.9" font-size="11" text-anchor="middle" letter-spacing="-0.25">540</text>
<text x="398" y="435.8" font-size="11.7" text-anchor="middle" >Binding energy (eV)</text>
<text x="276" y="313.5" font-size="11.6" text-anchor="middle" transform="rotate(-90 276 313.5)">Intensity (a.u.)</text>
<text x="360" y="303.2" font-size="10" text-anchor="middle" >529.9</text>
<text x="393.7" y="246.5" font-size="10" text-anchor="middle" >532</text>
<text x="509" y="240.2" font-size="10" text-anchor="end" font-family="Liberation Serif" font-weight="bold">O1<tspan font-size="7.6" dx="1.0" dy="2.3">s</tspan></text>
<text x="508" y="256.3" font-size="10.8" text-anchor="end" >HT1h</text>
<text x="425.7" y="298" font-size="24.5" text-anchor="middle" >(d)</text>
</g>
</svg>
</body></html>
